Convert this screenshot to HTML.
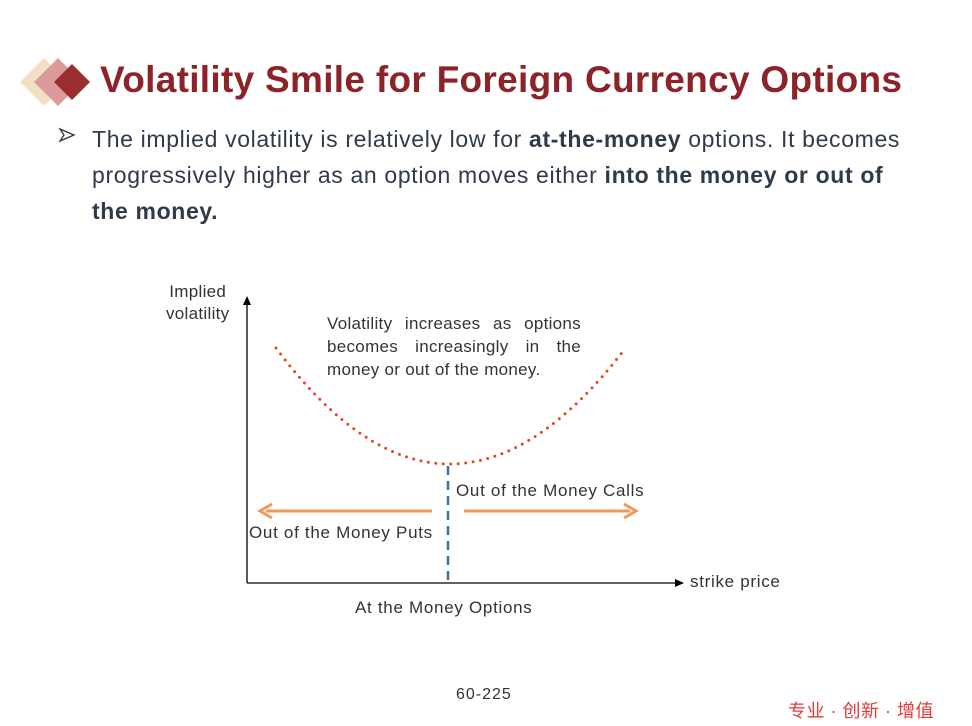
<!DOCTYPE html>
<html><head><meta charset="utf-8"><style>
body{margin:0;width:972px;height:726px;background:#fff;position:relative;overflow:hidden;font-family:"Liberation Sans","Noto Sans CJK SC",sans-serif}
.t{position:absolute;white-space:nowrap}
.l{font-size:17px;letter-spacing:0.7px;color:#333}
</style></head><body>
<svg width="972" height="726" style="position:absolute;left:0;top:0">
<polygon points="44,58 68,82 44,106 20,82" fill="#f3dfc4"/>
<polygon points="58,58 82,82 58,106 34,82" fill="#dc9a9a"/>
<polygon points="72,64 90,82 72,100 54,82" fill="#9a2e30"/>
<path d="M60,129 L74,135 L60,141 L64,135 Z" fill="none" stroke="#333" stroke-width="1.3"/>
<line x1="247" y1="583" x2="247" y2="302" stroke="#000" stroke-width="1.3"/>
<polygon points="247,296 243,305 251,305" fill="#000"/>
<line x1="247" y1="583" x2="678" y2="583" stroke="#000" stroke-width="1.3"/>
<polygon points="684,583 675,579 675,587" fill="#000"/>
<path d="M276,348 Q448,579 624,350" fill="none" stroke="#e8461e" stroke-width="3" stroke-linecap="round" stroke-dasharray="0 7.5"/>
<line x1="448" y1="466" x2="448" y2="583" stroke="#3e6fae" stroke-width="2.5" stroke-dasharray="9 6"/>
<line x1="432" y1="511" x2="266" y2="511" stroke="#ee9a5a" stroke-width="3"/>
<polyline points="272,504 260,511 272,518" fill="none" stroke="#ee9a5a" stroke-width="3"/>
<line x1="464" y1="511" x2="630" y2="511" stroke="#ee9a5a" stroke-width="3"/>
<polyline points="624,504 636,511 624,518" fill="none" stroke="#ee9a5a" stroke-width="3"/>
</svg>
<div class="t" style="left:100px;top:59px;font-size:37px;letter-spacing:0.3px;font-weight:bold;color:#8b2328">Volatility Smile for Foreign Currency Options</div>
<div class="t" style="left:92px;top:121px;font-size:23px;letter-spacing:0.65px;line-height:36px;color:#2f3a4a">The implied volatility is relatively low for <b>at-the-money</b> options. It becomes<br>progressively higher as an option moves either <b>into the money or out of<br>the money.</b></div>
<div class="t l" style="left:166px;top:281px;line-height:22px;text-align:center;letter-spacing:0.3px">Implied<br>volatility</div>
<div class="t l" style="left:327px;top:312px;line-height:23px;width:254px;letter-spacing:0.3px">
<div style="text-align:justify;text-align-last:justify">Volatility increases as options</div>
<div style="text-align:justify;text-align-last:justify">becomes increasingly in the</div>
<div>money or out of the money.</div></div>
<div class="t l" style="left:456px;top:481px">Out of the Money Calls</div>
<div class="t l" style="left:249px;top:523px">Out of the Money Puts</div>
<div class="t l" style="left:690px;top:572px">strike price</div>
<div class="t l" style="left:355px;top:598px">At the Money Options</div>
<div class="t" style="left:456px;top:686px;font-size:16px;letter-spacing:1px;color:#333">60-225</div>
<div class="t" style="left:788px;top:697px;font-size:18px;letter-spacing:0.5px;color:#e03a3a">专业 · 创新 · 增值</div>
</body></html>
